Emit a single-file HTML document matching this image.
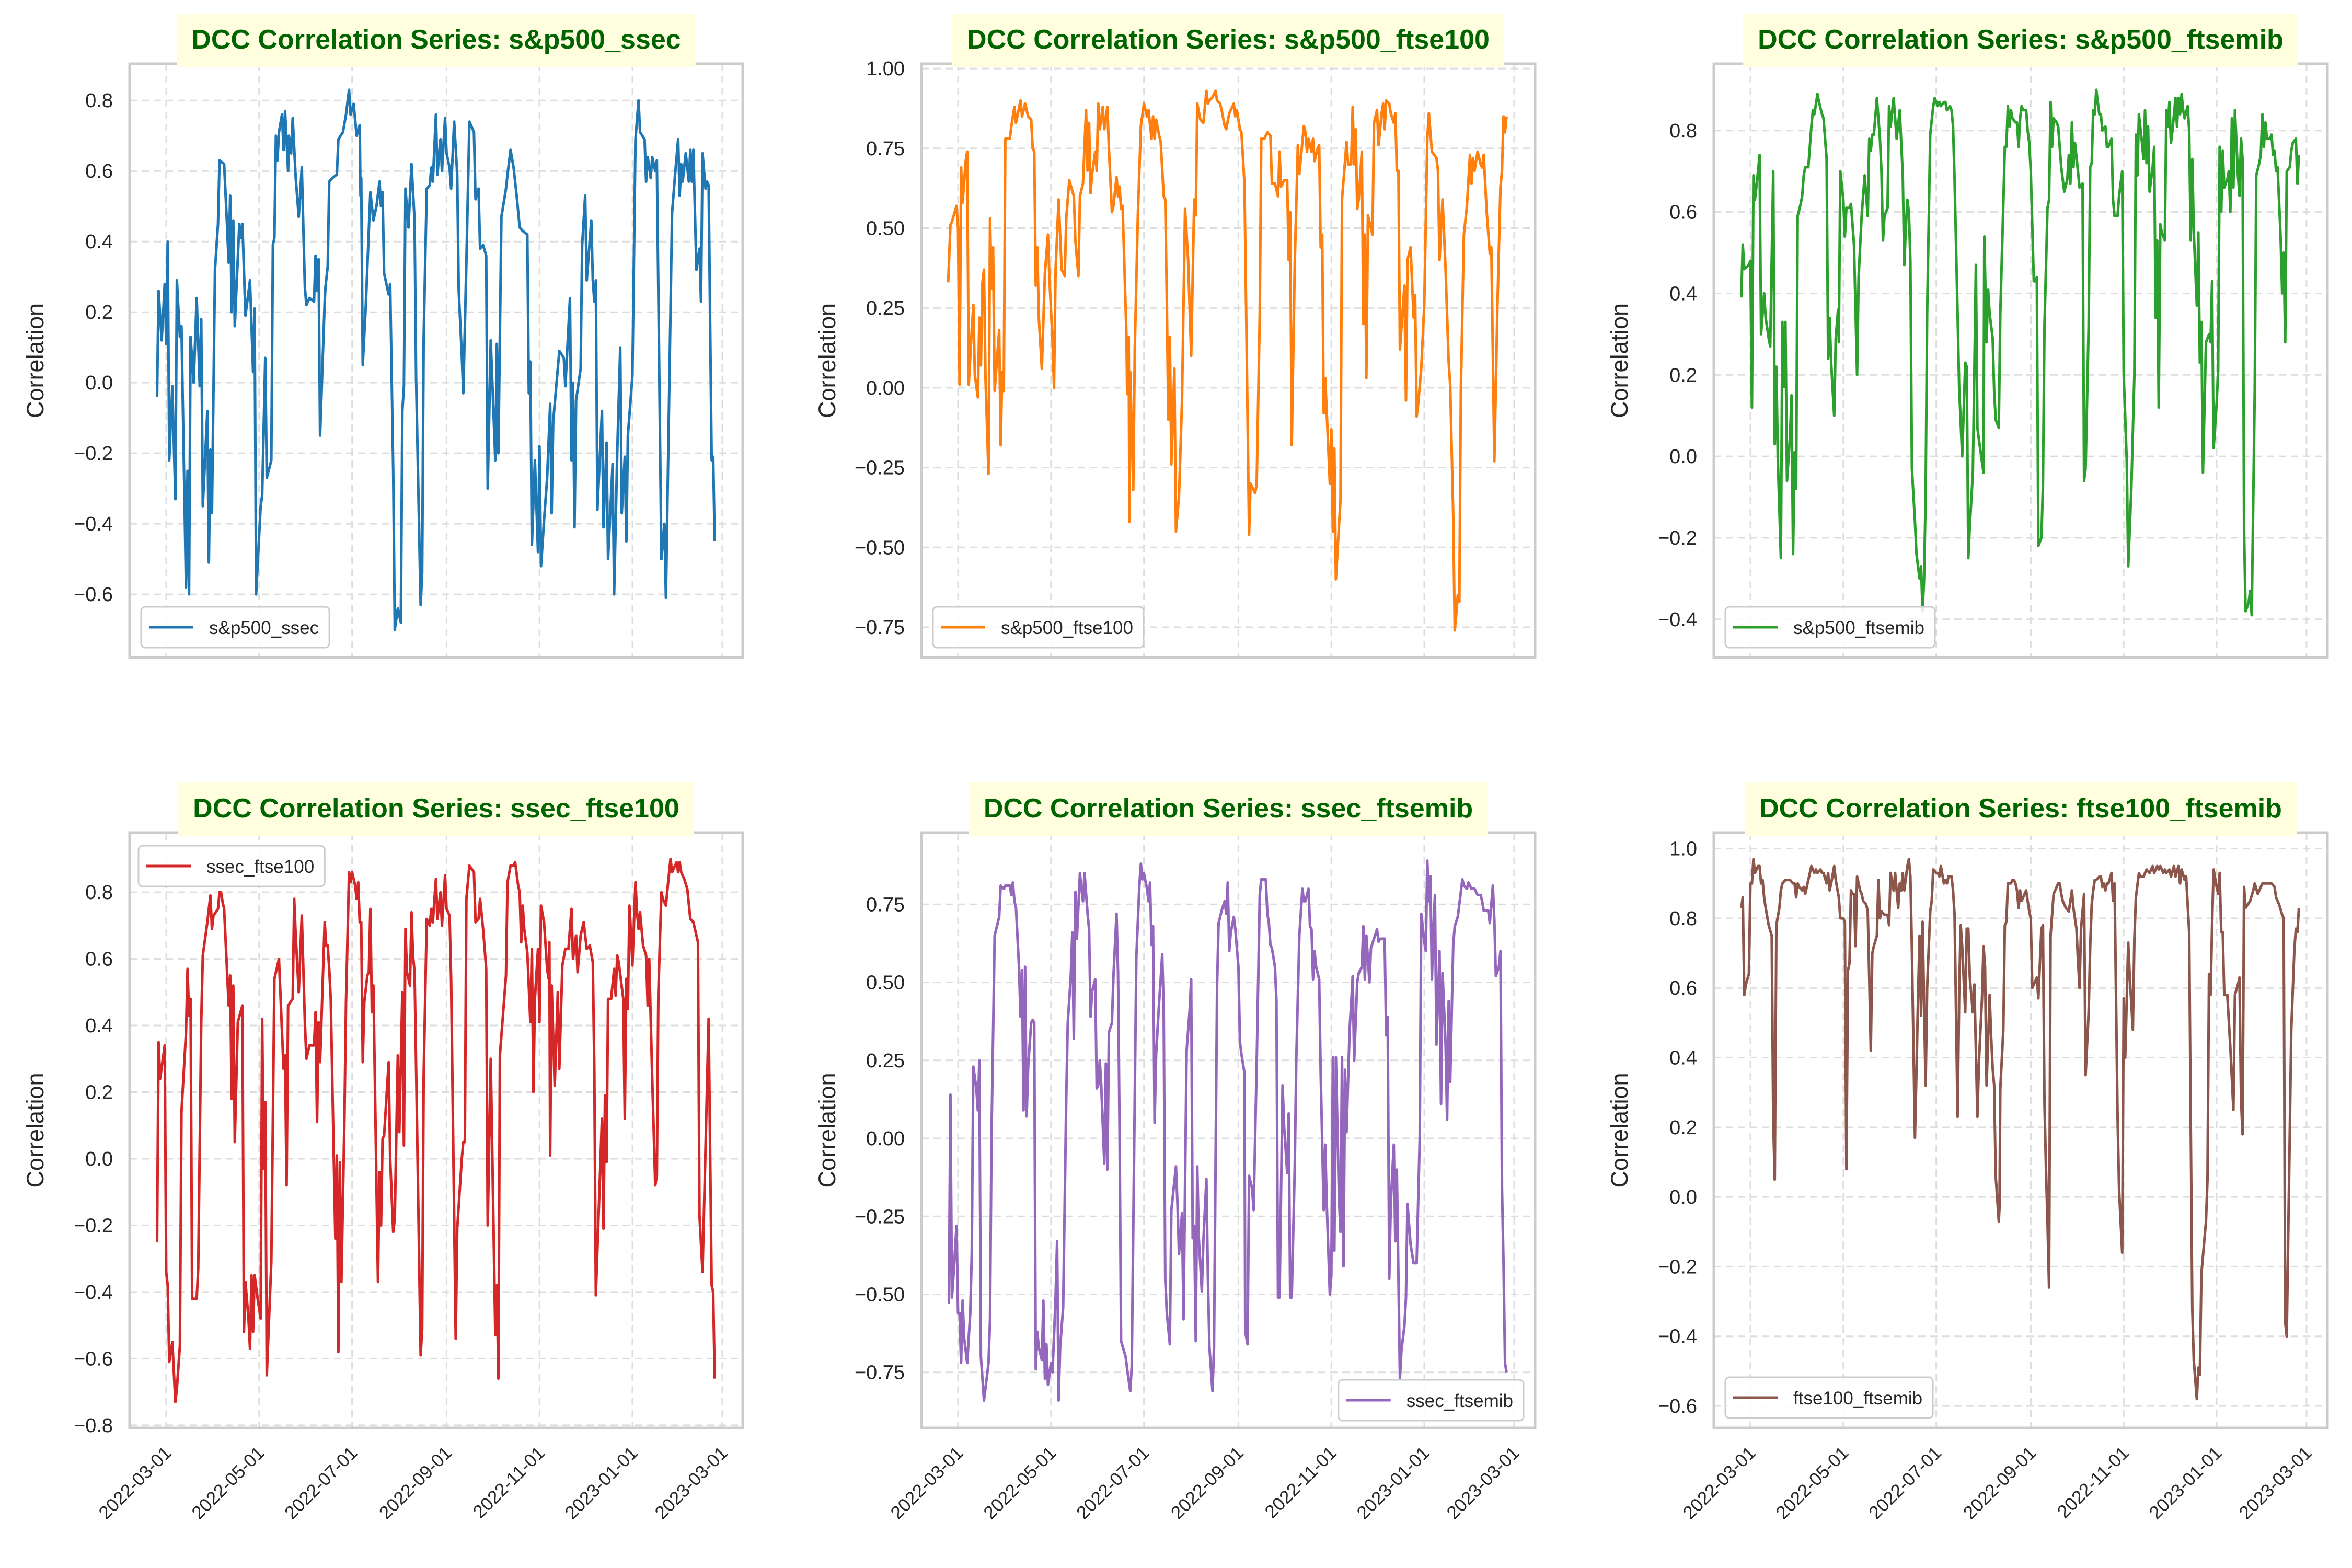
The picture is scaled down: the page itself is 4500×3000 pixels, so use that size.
<!DOCTYPE html>
<html><head><meta charset="utf-8"><style>
html,body{margin:0;padding:0;background:#fff;}
svg{display:block;font-family:"Liberation Sans",Arial,sans-serif;}
</style></head><body>
<svg id="fig" xmlns="http://www.w3.org/2000/svg" width="4500" height="3000" viewBox="0 0 4500 3000">
<rect width="4500" height="3000" fill="#fff"/>
</svg>
<script>
// ---- data: day offsets from 2022-03-01 and correlation values ----
const tickDays = [0, 61, 122, 184, 245, 306, 365];
const tickDates = ["2022-03-01","2022-05-01","2022-07-01","2022-09-01","2022-11-01","2023-01-01","2023-03-01"];
const seriesNames = ["s&p500_ssec","s&p500_ftse100","s&p500_ftsemib","ssec_ftse100","ssec_ftsemib","ftse100_ftsemib"];

const s1Days = [-6,-5,-3,-1,0,1,2,4,6,7,9,10,13,14,15,16,18,20,22,23,24,27,28,29,30,32,34,35,38,40,41,42,43,44,45,48,49,50,52,55,57,58,59,62,63,65,66,69,70,71,72,73,74,76,77,78,80,80.5,82,83,85,87,89,91,92,94,97,98,99,100,101,104,104.5,106,107,109,112,113,116,118,120,121,123,125,127,127.5,128,129,131,134,136,138,140,141,142,143,146,147,149,150,152,154,155,156,157,159,161,163,164,167,168,169,171,173,174,175,177,178,180,181,183,184,186,187,189,191,192,194,195,197,199,202,203,205,206,208,210,211,213,216,217,218,220,223,224,226,228,230,232,234,237,238,239,240,242,244,245,246,248,250,252,253,254,258,261,262,265,266,267,268,269,272,273,275,276,279,280,281,282,283,286,287,289,290,293,294,296,298,299,301,302,303,306,308,310,311,314,315,316,318,319,321,322,325,327,328,332,334,336,337,338,339,341,343,344,345,346,348,350,351,352,354,355,356,358,359,360];
const s1Vals = [-0.04,0.26,0.12,0.28,0.11,0.40,-0.22,-0.01,-0.33,0.29,0.13,0.16,-0.58,-0.25,-0.60,0.13,0.0,0.24,-0.01,0.18,-0.35,-0.08,-0.51,-0.19,-0.37,0.32,0.45,0.63,0.62,0.44,0.34,0.53,0.20,0.46,0.16,0.45,0.41,0.45,0.19,0.29,0.03,0.21,-0.60,-0.35,-0.32,0.07,-0.27,-0.22,0.39,0.41,0.70,0.63,0.71,0.76,0.66,0.77,0.60,0.70,0.65,0.75,0.58,0.47,0.61,0.27,0.22,0.24,0.23,0.36,0.26,0.35,-0.15,0.23,0.27,0.33,0.57,0.58,0.59,0.69,0.71,0.76,0.83,0.76,0.79,0.70,0.73,0.53,0.58,0.05,0.22,0.54,0.46,0.50,0.57,0.50,0.54,0.31,0.25,0.28,-0.25,-0.70,-0.64,-0.68,-0.08,-0.01,0.55,0.44,0.62,0.46,0.01,-0.63,-0.54,0.13,0.55,0.56,0.61,0.57,0.76,0.59,0.69,0.60,0.75,0.65,0.61,0.55,0.74,0.59,0.26,0.08,-0.03,0.34,0.74,0.71,0.52,0.55,0.38,0.39,0.36,-0.30,0.12,-0.22,0.11,-0.20,0.47,0.55,0.59,0.66,0.61,0.53,0.44,0.43,0.42,-0.03,0.06,-0.46,-0.22,-0.48,-0.18,-0.52,-0.39,-0.27,-0.06,-0.37,-0.11,0.09,0.07,-0.01,0.24,-0.22,0.0,-0.41,-0.05,0.04,0.39,0.53,0.29,0.46,0.29,0.23,0.29,-0.36,-0.08,-0.41,-0.17,-0.50,-0.23,-0.60,-0.20,0.10,-0.37,-0.21,-0.45,-0.15,0.02,0.69,0.80,0.71,0.69,0.57,0.64,0.58,0.64,0.60,0.63,-0.50,-0.40,-0.61,0.48,0.59,0.69,0.53,0.62,0.57,0.65,0.57,0.66,0.57,0.66,0.32,0.38,0.23,0.65,0.55,0.57,0.56,-0.22,-0.21,-0.45];

const s2Days = [-6.5,-5,-4,-1,0,1,2,3,5,6,7,9,10,11,13,14,15,16,17,18,20,21,22,23,24,27,28,29,30,31,34,35,37,38,41,42,44,46,48,49,50,51,52,53,55,57,59,60,62,63,64,66,68,70,71,73,76,77,79,80,82,84,85,86,87,88,90,91,92,93,95,96,98,99,101,102,104,105,106,107,108,110.5,111,112,112.5,113,115,116,118,120,122,124,125,127,128,129,130,132,133,135,136,137,138,139,140,142,143,145,147,149,151,153,155,156,157,159,161,163,164,165,167,169,170,172,173,175,176,178,179,181,182,183,185,186,188,191,192,195,196,198,199,201,203,205,206,208,210,211,212,214,216,217,218,219,221,223,224,226,227,228,229,230,232,233,234,236,237,238,239,240,241,244,245,246,247,248,251,252,255,256,258,259,260,261,262,263,265,266,267,268,269,272,273,275,276,278,279,280,281,283,284,286,287,288,289,290,293,294,295,297,299,300,301,302,304,306,308,309,310,311,314,315,316,318,320,322,323,325,326,327,328,329,330,332,334,336,337,338,339,341,343,344,345,347,349,350,352,354,356,357,358,359,360];
const s2Vals = [0.33,0.51,0.52,0.57,0.50,0.01,0.69,0.58,0.71,0.74,0.01,0.18,0.26,0.04,-0.03,0.22,0.07,0.33,0.37,0.03,-0.27,0.53,0.31,0.44,-0.01,0.18,-0.18,0.05,-0.01,0.78,0.78,0.82,0.88,0.83,0.90,0.85,0.89,0.85,0.84,0.75,0.74,0.32,0.44,0.22,0.06,0.36,0.48,0.34,0.15,0.0,0.37,0.59,0.37,0.35,0.53,0.65,0.60,0.46,0.35,0.60,0.64,0.87,0.68,0.83,0.61,0.67,0.74,0.68,0.89,0.81,0.88,0.81,0.88,0.75,0.55,0.57,0.66,0.60,0.63,0.56,0.57,0.17,-0.02,0.16,-0.42,0.05,-0.32,0.12,0.54,0.82,0.89,0.85,0.87,0.78,0.85,0.78,0.84,0.79,0.77,0.60,0.59,0.27,-0.10,0.16,-0.24,0.06,-0.45,-0.34,-0.04,0.56,0.40,0.10,0.59,0.54,0.89,0.84,0.83,0.93,0.89,0.90,0.91,0.93,0.90,0.89,0.87,0.82,0.81,0.86,0.87,0.89,0.85,0.87,0.81,0.80,0.64,-0.46,-0.30,-0.33,-0.30,0.23,0.78,0.78,0.80,0.79,0.64,0.64,0.60,0.74,0.63,0.65,0.65,0.40,0.55,-0.18,0.39,0.76,0.67,0.77,0.82,0.80,0.74,0.78,0.74,0.78,0.71,0.75,0.76,0.44,0.48,-0.08,0.03,-0.30,-0.13,-0.45,-0.19,-0.60,-0.35,0.59,0.77,0.70,0.70,0.88,0.70,0.81,0.56,0.59,0.74,0.20,0.48,0.03,0.54,0.48,0.83,0.87,0.76,0.86,0.89,0.81,0.90,0.89,0.86,0.83,0.86,0.68,0.68,0.12,0.32,-0.04,0.40,0.44,0.22,0.29,-0.09,-0.05,0.06,0.26,0.78,0.86,0.80,0.74,0.72,0.68,0.40,0.59,0.37,0.08,0.01,-0.40,-0.76,-0.71,-0.65,-0.67,-0.01,0.48,0.57,0.73,0.64,0.72,0.68,0.74,0.70,0.69,0.73,0.55,0.42,0.44,-0.23,0.25,0.63,0.68,0.85,0.80,0.85];

const s3Days = [-6,-5,-4,-1,0,1,2,3,5,6,7,9,10,12,13,15,16,17,18,20,21,22,23,24,26,27,28,29,30,31,33,34,35,36,38,40,41,42,44,45,47,48,50,51,52,53,55,56,57.5,58,59,61,62,63,65,66,68,70,71,73,75,77,78,79,80,81,83,85,86,87,88,90,91,92,94,95,96,98,99,100,101,102,103,104,105,106,108,109,111,112,113,114,115,116,118,120,121,122,123,124,125,127,128,129,131,132,133,134,136,137,139,141,142,143,144,146,148,149,150,153,153.5,155,156,157,159,160,161,163,164,166,167,168,169,170,171,172,174,175,176,177,178,179,181,182,183,184,186,187,188,189,191,192,193,195,196,197,198,199,201,202,203,204,206,208,209,210,211,212,213,215,216,218,219,220,222,223,224,225,226,227,228,229,230,231,233,234,235,237,238,239,241,242,244,245,247,248,250,252,253,254,255,257,258,259,260,261,262,264,265,266,267,268,269,270,272,273,274,275,276,277,279,280,281,282,283,284,285,287,288,289,290,291,293,294,295,296,297,299,301,302,303,304,306,307,308,309,310,311,313,314,315,316,317,318,320,321,322,323,324,325,327,328,329,331,332,334,335,336,337,338,339,341,342,343,344,345,346,348,349,350,351,352,354,355,356,358,359,360];
const s3Vals = [0.39,0.52,0.46,0.47,0.48,0.12,0.69,0.63,0.70,0.74,0.30,0.40,0.34,0.29,0.27,0.70,0.03,0.22,-0.01,-0.25,0.33,0.17,0.33,-0.06,0.05,0.15,-0.24,0.01,-0.08,0.59,0.62,0.64,0.69,0.71,0.71,0.81,0.85,0.84,0.89,0.87,0.84,0.83,0.73,0.24,0.34,0.23,0.10,0.29,0.36,0.28,0.70,0.63,0.54,0.61,0.61,0.62,0.52,0.20,0.44,0.59,0.69,0.59,0.78,0.75,0.79,0.79,0.88,0.78,0.70,0.53,0.59,0.61,0.86,0.81,0.88,0.83,0.78,0.85,0.77,0.69,0.47,0.56,0.63,0.60,0.48,-0.03,-0.16,-0.24,-0.30,-0.27,-0.38,-0.30,-0.10,0.35,0.79,0.86,0.88,0.87,0.86,0.87,0.86,0.87,0.87,0.85,0.86,0.85,0.81,0.68,0.35,0.17,0.0,0.23,0.22,-0.25,-0.17,-0.04,0.47,0.07,0.04,-0.04,0.54,0.28,0.41,0.35,0.29,0.16,0.09,0.07,0.35,0.62,0.76,0.76,0.86,0.81,0.85,0.83,0.82,0.82,0.76,0.83,0.86,0.85,0.85,0.80,0.77,0.70,0.43,0.43,0.44,-0.22,-0.20,-0.07,0.32,0.61,0.63,0.87,0.76,0.83,0.82,0.81,0.76,0.71,0.65,0.68,0.74,0.67,0.82,0.71,0.77,0.70,0.66,0.67,-0.06,-0.03,0.32,0.71,0.72,0.85,0.84,0.90,0.87,0.84,0.84,0.80,0.81,0.76,0.76,0.78,0.63,0.59,0.59,0.64,0.70,0.20,-0.01,-0.27,-0.08,0.20,0.79,0.69,0.84,0.77,0.73,0.85,0.72,0.81,0.65,0.71,0.76,0.34,0.53,0.12,0.57,0.55,0.53,0.85,0.81,0.87,0.77,0.80,0.88,0.81,0.88,0.84,0.89,0.85,0.83,0.86,0.80,0.53,0.73,0.55,0.37,0.55,0.23,0.33,-0.04,0.28,0.30,0.28,0.43,0.02,0.13,0.21,0.76,0.60,0.75,0.66,0.68,0.70,0.60,0.83,0.66,0.85,0.69,0.64,0.78,0.73,-0.18,-0.38,-0.36,-0.33,-0.39,0.16,0.69,0.72,0.74,0.84,0.76,0.82,0.78,0.78,0.79,0.74,0.75,0.70,0.71,0.54,0.40,0.50,0.28,0.70,0.71,0.75,0.77,0.78,0.67,0.74];

const s4Days = [-6,-5,-4,-1,0,1,2,4,6,7,9,10,13,14,15,16,17,20,21,23,24,27,29,30,31,34,35,36,37,38,41,42,43,44,45,47,50,51,52,54,55,56,57,58,60,62,63,64,65,66,69,71,73,74,77,78,79,80,83,84,85,87,89,91,92,94,97,98,99,100,101,104,105,106,107,108,111,112,113,114,115,117,118,120,121,122,124,125,126,127,128,129,130,132,133,134,135,136,139,140,141,142,143,146,147,149,150,152,153,155,156,157,158,160,161,162,163,165,167,168,169,171,173,174,175,177,178,180,181,183,184,186,187,190,191,194,195,196,197,199,202,203,205,206,208,210,211,213,216,217,218,219,223,224,226,228,229,231,232,233,234,235,237,239,240,241,242,244,245,246,248,250,251,251.5,252,253,255,257,258,260,262,264,266,267,269,270,272,274,276,278,280,281,282,285,286,287,288,289,290,292,294,295,296,297,300,301,302,303,304,305,306,308,309,310,311,313,315,316,317,319,321,322,323,325,326,328,329,331,332,333,335,336,337,338,340,342,344,346,349,350,352,356,358,359,360];
const s4Vals = [-0.25,0.35,0.24,0.34,-0.34,-0.38,-0.61,-0.55,-0.73,-0.69,-0.56,0.14,0.38,0.57,0.43,0.48,-0.42,-0.42,-0.33,0.41,0.61,0.71,0.79,0.69,0.73,0.75,0.80,0.80,0.77,0.75,0.46,0.55,0.18,0.52,0.05,0.41,0.46,-0.52,-0.37,-0.48,-0.57,-0.35,-0.52,-0.35,-0.42,-0.48,0.42,-0.03,0.17,-0.65,-0.31,0.54,0.58,0.60,0.27,0.31,-0.08,0.46,0.48,0.78,0.67,0.50,0.73,0.41,0.30,0.34,0.34,0.44,0.11,0.41,0.29,0.71,0.64,0.64,0.57,0.48,-0.24,0.01,-0.58,-0.01,-0.37,0.13,0.47,0.86,0.83,0.86,0.82,0.78,0.83,0.71,0.71,0.29,0.47,0.55,0.56,0.75,0.44,0.52,-0.37,-0.04,-0.20,0.06,0.07,0.29,0.0,-0.22,-0.18,0.31,0.08,0.50,0.04,0.69,0.56,0.52,0.74,0.61,0.56,-0.01,-0.59,-0.51,0.25,0.72,0.70,0.75,0.71,0.84,0.72,0.80,0.70,0.85,0.75,0.73,0.54,-0.54,-0.21,0.0,0.05,0.05,0.78,0.88,0.86,0.71,0.72,0.78,0.69,0.57,-0.20,0.30,-0.53,-0.38,-0.66,0.31,0.55,0.83,0.88,0.88,0.89,0.82,0.80,0.65,0.76,0.69,0.62,0.41,0.63,0.20,0.48,0.63,0.41,0.76,0.71,0.57,0.54,0.65,0.01,0.52,0.22,0.50,0.27,0.58,0.63,0.63,0.75,0.60,0.67,0.56,0.67,0.71,0.63,0.64,0.59,0.27,-0.41,-0.01,0.12,-0.21,0.19,-0.01,0.48,0.48,0.57,0.49,0.61,0.59,0.48,0.12,0.54,0.45,0.76,0.68,0.58,0.83,0.74,0.69,0.74,0.64,0.61,0.46,0.60,0.24,-0.08,-0.05,0.50,0.80,0.78,0.76,0.81,0.90,0.86,0.87,0.89,0.86,0.89,0.86,0.84,0.81,0.72,0.71,0.65,-0.17,-0.34,0.42,-0.38,-0.40,-0.66];

const s5Days = [-6,-5,-4,-3,-1,0,1,2,3,4,6,8,9,10,12,13,14,15,17,20,21,22,24,26,27,28,30,31,33,34,35,36,37,38,40,41,42,43,44,45,46,48,49,50,51,52,53,55,56,57,58,59,61,62,64,65,66,67,69,71,72,74,75,76,77,78,80,81,82,83,85,86,87,88,90,91,92,93,94,96,97,98,99,101,102,104,105,106,107,110,111,113,114,115,117,119,120,121,122,124,125,126,127,128,129,130,132,133,134,135,136,137,139,140,143,144,145,147,148,150,152,153,154,155,156,157,158,160,161,163,164,165,167,168,170,171,173,175,176,177,178,179,181,182,184,185,186,188,188.5,190,191,193,194,196,198,199,201,202,203,204,205,206,208,209,210,211,213,214,216,217,218,219,221,222,224,226,227,228,230,231,232,233,234,235,237,238,240,241,242,244,245,246,247,248,250,251,252,253,254,255,257,258,259,260,262,263,265,266,267,268,270,271,273,275,276,277,280,281,282,283,284,286,287,288,290,291,293,294,295,297,299,301,303,304,306,307,308,309,310,311,312,313,314,316,317,318,320,321,322,323,325,326,328,329,331,332,334,335,337,339,341,343,344,345,347,348,349,351,352,353,355,356,357,358,359,360];
const s5Vals = [-0.53,0.14,-0.51,-0.44,-0.28,-0.56,-0.56,-0.72,-0.52,-0.64,-0.72,-0.56,-0.37,0.23,0.16,0.09,0.25,-0.70,-0.84,-0.72,-0.58,0.02,0.65,0.69,0.71,0.81,0.80,0.81,0.81,0.81,0.78,0.82,0.76,0.74,0.55,0.39,0.54,0.09,0.55,0.07,0.23,0.37,0.38,0.37,-0.74,-0.62,-0.67,-0.71,-0.52,-0.77,-0.66,-0.79,-0.72,-0.75,-0.51,-0.33,-0.84,-0.67,-0.54,0.13,0.37,0.52,0.66,0.32,0.79,0.64,0.85,0.80,0.76,0.85,0.72,0.67,0.39,0.47,0.51,0.16,0.17,0.25,0.17,-0.08,0.24,-0.10,0.34,0.37,0.52,0.72,0.53,0.02,-0.65,-0.70,-0.74,-0.81,-0.73,-0.29,0.58,0.81,0.88,0.83,0.85,0.80,0.76,0.82,0.62,0.68,0.05,0.27,0.44,0.51,0.59,0.41,-0.45,-0.56,-0.66,-0.23,-0.09,-0.21,-0.37,-0.24,-0.58,0.28,0.41,0.51,-0.32,-0.28,-0.65,-0.09,-0.32,-0.49,-0.33,-0.13,-0.45,-0.67,-0.81,-0.67,0.49,0.69,0.73,0.76,0.72,0.82,0.60,0.66,0.71,0.67,0.55,0.31,0.27,0.21,-0.62,-0.66,-0.12,-0.16,-0.23,0.24,0.78,0.83,0.83,0.83,0.72,0.69,0.62,0.61,0.55,0.44,-0.51,-0.51,0.17,0.04,-0.11,0.08,-0.51,-0.51,-0.09,0.25,0.65,0.80,0.76,0.76,0.80,0.68,0.67,0.51,0.60,0.55,0.51,0.21,-0.23,-0.02,-0.21,-0.50,-0.44,0.26,-0.36,0.26,-0.19,-0.30,0.26,-0.41,0.22,0.02,0.35,0.43,0.52,0.25,0.50,0.53,0.55,0.68,0.51,0.65,0.50,0.61,0.64,0.67,0.63,0.64,0.64,0.33,0.39,-0.45,-0.21,-0.02,-0.33,-0.10,-0.77,-0.68,-0.60,-0.51,-0.21,-0.34,-0.40,-0.40,0.0,0.72,0.63,0.60,0.89,0.76,0.84,0.51,0.67,0.78,0.30,0.60,0.11,0.53,0.30,0.06,0.44,0.18,0.62,0.68,0.71,0.75,0.83,0.81,0.80,0.82,0.80,0.80,0.78,0.78,0.76,0.73,0.73,0.73,0.69,0.81,0.70,0.52,0.55,0.60,-0.16,-0.40,-0.72,-0.75];

const s6Days = [-6,-5,-4,-3,-1,0,1,2,3,4,5,6,7,8,9,10,12,14,15,16,17,19,20,21,23,24,26,28,29,30,31,32,34,35,36,38,39,40,42,43,44,46,47,48,50,51,52,53,55,56,58,59,61,62,63,64,65,66,67,68,69,70,72,73,74,76,77,78,79,80,81,83,84,85,86,88,90,91,92,94,95,96,97,98,99,100,101,103,104,105,106,108,110,111,112,113,115,116,118,119,120,122,123,124,125,127,128,129,130,132,133,134,136,137,138,139,141,142,143,144,146,147,149,150,152,153,154,155,157,158,159,160,161,163,163.5,164,166,167,168,169,171,172,173,174,175,176,177,178,180,181,182,183,184,185,186,188,189,191,192,193,194,195,196,197,199,200,202,203,204,205,206,207,209,210,211,212,214,215,216,217,219,220,222,223,224,225,226,227,229,230,231,232,233,234,235,237,238,239,241,242,244,245,246,248,249,251,252,253,255,256,258,259,260,262,263,264,265,267,268,269,271,272,273,275,276,278,279,281,282,283,285,286,288,290,291,293,294,295,296,299,300,301,302,303,304,306,307,308,309,310,311,313,315,317,318,320,321,322,323,324,325,328,330,331,333,334,336,338,340,342,344,345,347,349,350,351,352,354,355,357,358,359,360];
const s6Vals = [0.83,0.86,0.58,0.61,0.64,0.90,0.90,0.97,0.93,0.94,0.95,0.95,0.90,0.91,0.86,0.83,0.78,0.75,0.22,0.05,0.78,0.83,0.88,0.90,0.91,0.91,0.91,0.90,0.90,0.86,0.90,0.89,0.88,0.89,0.87,0.91,0.93,0.95,0.93,0.94,0.93,0.94,0.93,0.93,0.90,0.93,0.88,0.90,0.95,0.91,0.86,0.80,0.80,0.79,0.08,0.65,0.67,0.88,0.87,0.87,0.72,0.92,0.88,0.87,0.85,0.84,0.82,0.63,0.42,0.70,0.72,0.75,0.91,0.80,0.82,0.81,0.81,0.78,0.93,0.88,0.93,0.88,0.83,0.90,0.88,0.93,0.88,0.95,0.97,0.92,0.71,0.17,0.57,0.75,0.52,0.79,0.32,0.60,0.82,0.85,0.94,0.93,0.93,0.92,0.95,0.90,0.91,0.90,0.92,0.92,0.88,0.81,0.23,0.58,0.78,0.72,0.53,0.77,0.77,0.63,0.53,0.61,0.23,0.39,0.57,0.72,0.66,0.32,0.58,0.46,0.37,0.32,0.06,-0.07,-0.03,0.31,0.48,0.78,0.79,0.90,0.90,0.91,0.91,0.90,0.88,0.83,0.88,0.85,0.87,0.88,0.85,0.82,0.80,0.60,0.61,0.63,0.57,0.77,0.78,0.27,0.08,-0.07,-0.26,0.75,0.87,0.88,0.90,0.90,0.87,0.85,0.84,0.83,0.82,0.85,0.88,0.83,0.77,0.68,0.60,0.77,0.87,0.35,0.53,0.72,0.84,0.88,0.91,0.91,0.92,0.92,0.89,0.90,0.88,0.90,0.90,0.93,0.85,0.90,0.23,0.02,-0.16,0.57,0.40,0.73,0.63,0.48,0.74,0.86,0.93,0.92,0.92,0.93,0.94,0.93,0.94,0.95,0.93,0.95,0.94,0.95,0.93,0.94,0.93,0.94,0.92,0.95,0.92,0.95,0.90,0.94,0.91,0.92,0.76,-0.32,-0.47,-0.58,-0.49,-0.51,-0.22,-0.07,0.05,0.64,0.58,0.78,0.94,0.89,0.87,0.93,0.76,0.76,0.58,0.58,0.43,0.25,0.58,0.61,0.63,0.28,0.18,0.89,0.83,0.85,0.88,0.90,0.87,0.88,0.90,0.90,0.90,0.90,0.89,0.86,0.84,0.81,0.80,-0.36,-0.40,0.18,0.48,0.71,0.77,0.76,0.83];

const seriesDays = [s1Days,s2Days,s3Days,s4Days,s5Days,s6Days];
const seriesVals = [s1Vals,s2Vals,s3Vals,s4Vals,s5Vals,s6Vals];
const yMin = [-0.779,-0.845,-0.494,-0.808,-0.928,-0.663];
const yMax = [0.904,1.015,0.964,0.979,0.980,1.046];
const yTicks = [
  [-0.6,-0.4,-0.2,0.0,0.2,0.4,0.6,0.8],
  [-0.75,-0.5,-0.25,0.0,0.25,0.5,0.75,1.0],
  [-0.4,-0.2,0.0,0.2,0.4,0.6,0.8],
  [-0.8,-0.6,-0.4,-0.2,0.0,0.2,0.4,0.6,0.8],
  [-0.75,-0.5,-0.25,0.0,0.25,0.5,0.75],
  [-0.6,-0.4,-0.2,0.0,0.2,0.4,0.6,0.8,1.0]
];
const yDecimals = [1,2,1,1,2,1];

// ---- layout ----
const colors = ["#1f77b4","#ff7f0e","#2ca02c","#d62728","#9467bd","#8c564b"];
const colL = [248,1763,3279], colR = [1421,2937,4453];
const rowT = [122,1593], rowB = [1258,2732];
const legendPos = ["ll","ll","ll","ul","lr","ll"];
const NS = "http://www.w3.org/2000/svg";
const svg = document.getElementById("fig");
function mk(tag, attrs, parent){const e=document.createElementNS(NS,tag);for(const k in attrs)e.setAttribute(k,attrs[k]);(parent||svg).appendChild(e);return e;}
function fmt(v,d){const s=Math.abs(v).toFixed(d);return (v<0?"\u2212":"")+s;}

for(let p=0;p<6;p++){
  const c=p%3, r=Math.floor(p/3);
  const L=colL[c], R=colR[c], T=rowT[r], B=rowB[r];
  const xs = d => L + 70 + d*(1064/365);
  const ys = v => B - (v - yMin[p])/(yMax[p]-yMin[p])*(B-T);
  const g = mk("g",{});
  
  
  for(const d of tickDays){
    const ln = mk("line",{x1:xs(d),x2:xs(d),y1:T,y2:B,stroke:"#dddddd","stroke-width":3,"stroke-dasharray":"14,9"},g);
    
    
  }
  for(const v of yTicks[p]){
    const y=ys(v);
    const ln = mk("line",{x1:L,x2:R,y1:y,y2:y,stroke:"#dddddd","stroke-width":3,"stroke-dasharray":"14,9"},g);
    
    
    const t = mk("text",{x:L-32,y:y+13,"text-anchor":"end","font-size":38,fill:"#262626"},g);
    t.textContent = fmt(v,yDecimals[p]);
    
    
  }
  const dd=seriesDays[p], vv=seriesVals[p];
  let pts=[];
  for(let i=0;i<dd.length;i++) pts.push(xs(dd[i]).toFixed(1)+","+ys(vv[i]).toFixed(1));
  const pl = mk("polyline",{points:pts.join(" "),fill:"none",stroke:colors[p],"stroke-width":5,"stroke-linejoin":"round"},g);
  
  
  const fr = mk("rect",{x:L,y:T,width:R-L,height:B-T,fill:"none",stroke:"#cccccc","stroke-width":5},g);
  
  
  const yl = mk("text",{x:0,y:0,"text-anchor":"middle","font-size":45,fill:"#262626",transform:`translate(${L-165},${(T+B)/2}) rotate(-90)`},g);
  yl.textContent="Correlation";
  
  
  if(r===1){
    for(let i=0;i<tickDays.length;i++){
      const x=xs(tickDays[i]);
      const t = mk("text",{x:0,y:0,"text-anchor":"end","font-size":35,fill:"#262626",transform:`translate(${x+12},${B+50}) rotate(-45)`},g);
      t.textContent=tickDates[i];
      
      
    }
  }
  const cx=(L+R)/2;
  const tb = mk("rect",{x:0,y:T-96,width:10,height:102,fill:"#ffffe0"},g);
  
  
  const tt = mk("text",{x:cx,y:T-29,"text-anchor":"middle","font-size":52,"font-weight":"bold",fill:"#006400"},g);
  tt.textContent="DCC Correlation Series: "+seriesNames[p];
  
  
  const tw = tt.getBBox().width;
  tb.setAttribute("x", cx - tw/2 - 28); tb.setAttribute("width", tw+56);
  const lg = mk("g",{},g);
  
  
  const lbox = mk("rect",{x:0,y:0,width:10,height:78,rx:8,fill:"#ffffff","fill-opacity":0.85,stroke:"#cccccc","stroke-width":3},lg);
  const lline = mk("line",{x1:0,x2:0,y1:0,y2:0,stroke:colors[p],"stroke-width":5},lg);
  
  
  const ltxt = mk("text",{x:0,y:0,"font-size":35,fill:"#262626"},lg);
  ltxt.textContent=seriesNames[p];
  
  
  const lw = ltxt.getBBox().width + 150;
  let lx, ly;
  const pos=legendPos[p];
  if(pos==="ll"){lx=L+22;ly=B-97;}
  else if(pos==="ul"){lx=L+17;ly=T+25;}
  else {lx=R-22-lw;ly=B-92;}
  lbox.setAttribute("x",lx);lbox.setAttribute("y",ly);lbox.setAttribute("width",lw);
  lline.setAttribute("x1",lx+15);lline.setAttribute("x2",lx+100);lline.setAttribute("y1",ly+39);lline.setAttribute("y2",ly+39);
  ltxt.setAttribute("x",lx+130);ltxt.setAttribute("y",ly+52);
}
</script>
</body></html>
